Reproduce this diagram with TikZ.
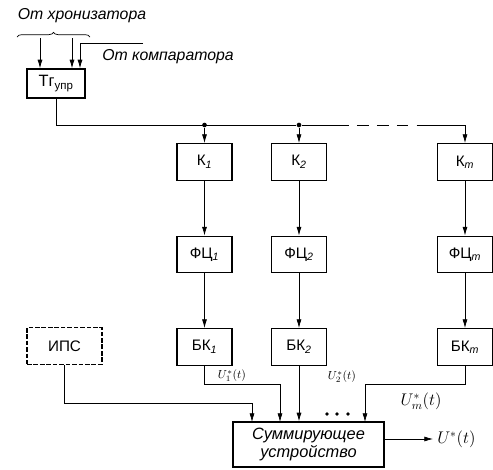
\documentclass[tikz,border=0pt]{standalone}
\usepackage{fontspec}
\setmainfont{Liberation Sans}
\usetikzlibrary{arrows.meta,decorations.pathreplacing}

\tikzset{
  blok/.style={draw, line width=1.1pt, minimum width=1.65cm, minimum height=1.1cm,
               inner sep=1pt, font=\fontsize{13}{14}\selectfont},
  ipsblok/.style={blok, dash pattern=on 4pt off 1.5pt, minimum width=2.25cm},
  pil/.style={-{Latex[length=2.6mm,width=1.5mm]}},
  lbl/.style={font=\fontsize{13.5}{15}\selectfont\itshape},
  uzel/.style={circle, fill, inner sep=0pt, minimum size=4pt},
}

\begin{document}
\begin{tikzpicture}[x=0.03cm, y=-0.03cm, line width=0.6pt]
\useasboundingbox (0,0) rectangle (493,470);

% -----------------------------
% Control trigger and its inputs
% -----------------------------
\node[lbl] (hron) at (82,16) {От хронизатора};
\node[lbl, anchor=west] (komp) at (98,57) {От компаратора};
\draw[decorate, decoration={brace, amplitude=4pt}] (17,37) -- (90,37);

\node[blok, minimum width=1.74cm, minimum height=0.87cm, font=\fontsize{14}{15}\selectfont] (tr) at (56,83.5) {Тг\textsubscript{упр}};

\coordinate (h1) at (40,38);
\coordinate (h2) at (72,38);
\coordinate (h3) at (143,43);
\coordinate (h4) at (80,43);
\draw[pil] (h1) -- (h1 |- tr.north);
\draw[pil] (h2) -- (h2 |- tr.north);
\draw[pil] (h3) -- (h4) -- (h4 |- tr.north);

% -----------------------------
% Channels K, FC, BK
% -----------------------------
\foreach \n/\x/\s in {1/204.5/1, 2/299/2, m/465/m} {
  \node[blok] (k\n) at (\x,162) {К\textsubscript{\itshape\s}};
  \node[blok] (f\n) at (\x,254.5) {ФЦ\textsubscript{\itshape\s}};
  \node[blok] (b\n) at (\x,347) {БК\textsubscript{\itshape\s}};
  \draw[pil] (k\n) -- (f\n);
  \draw[pil] (f\n) -- (b\n);
}

% bus from the trigger
\coordinate (bus) at (0,125);
\node[uzel] (t1) at (k1.north |- bus) {};
\node[uzel] (t2) at (k2.north |- bus) {};
\coordinate (d1) at (337,125);
\coordinate (d2) at (417,125);
\draw (tr.south) |- (t2);
\draw (t2) -- (d1);
\draw[dash pattern=on 10pt off 7pt] (d1) -- (d2);
\draw[pil] (d2) -| (km);
\draw[pil] (t1) -- (k1);
\draw[pil] (t2) -- (k2);

% -----------------------------
% Summing device
% -----------------------------
\node[ipsblok] (ips) at (64.5,346) {ИПС};
\node[blok, minimum width=4.53cm, minimum height=1.35cm, align=center,
      font=\fontsize{14}{15}\selectfont\itshape] (sum) at (308.5,444.5) {Суммирующее\\устройство};

\coordinate (v1) at (252,422);
\coordinate (v2) at (280,422);
\coordinate (v4) at (365,422);
\draw[pil] (ips.south) -- ++(0,38) -| (v1);
\draw[pil] (b1.south) -- ++(0,18) -| (v2);
\draw[pil] (b2) -- (b2 |- sum.north);
\draw[pil] (bm.south) -- ++(0,18) -| (v4);

\foreach \x in {327,337,348}
  \fill (\x,414) circle (1.6pt);

\node[font=\normalsize] (u1) at (232,376) {$U_1^*(t)$};
\node[font=\normalsize] (u2) at (342,377) {$U_2^*(t)$};
\node[font=\Large] (um) at (421,401) {$U_m^*(t)$};

% output
\node[anchor=west, font=\Large] (uout) at (433,439) {$U^*(t)$};
\draw[pil] (sum.east |- uout.west) -- (uout.west);

\end{tikzpicture}
\end{document}
